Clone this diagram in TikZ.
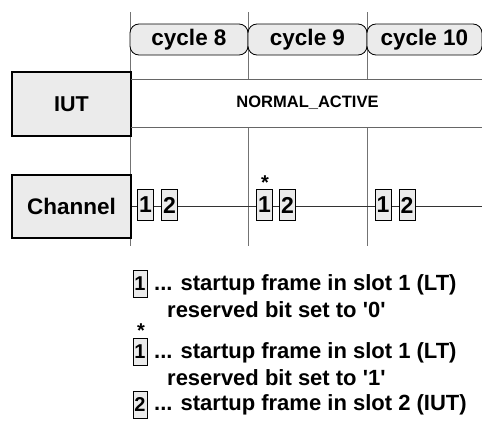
\documentclass[tikz,border=0pt]{standalone}
\usepackage{fontspec}
\setmainfont{Liberation Sans}[Ligatures=TeXOff]
\begin{document}
\begin{tikzpicture}[x=1pt,y=-1pt,
  gridline/.style={draw=black!55,line width=0.9pt},
  hline/.style={draw=black!60,line width=0.9pt},
  graybox/.style={draw=black,line width=1.1pt,fill=black!8,inner sep=0pt},
  cyclebox/.style={graybox,line width=0.8pt,rounded corners=9pt,minimum height=31pt,font=\fontsize{22.5}{24}\selectfont\bfseries},
  framebox/.style={graybox,line width=0.9pt,minimum width=16pt,minimum height=31pt,font=\fontsize{23}{24}\selectfont\bfseries},
  legbox/.style={graybox,line width=0.9pt,minimum width=14pt,minimum height=27pt,font=\fontsize{20}{22}\selectfont\bfseries},
  legtext/.style={anchor=west,inner sep=0pt,font=\fontsize{22}{24}\selectfont\bfseries},
  star/.style={inner sep=0pt,font=\fontsize{20}{20}\selectfont\bfseries}]
\useasboundingbox (0,0) rectangle (482,431);
% vertical grid lines (interrupted by the IUT band)
\coordinate (v1t) at (130,12); \coordinate (v1m) at (130,79); \coordinate (v1n) at (130,127); \coordinate (v1b) at (130,246);
\coordinate (v2t) at (248,12); \coordinate (v2m) at (248,79); \coordinate (v2n) at (248,127); \coordinate (v2b) at (248,246);
\coordinate (v3t) at (367,12); \coordinate (v3m) at (367,79); \coordinate (v3n) at (367,127); \coordinate (v3b) at (367,246);
\draw[gridline] (v1t) -- (v1m) (v1n) -- (v1b);
\draw[gridline] (v2t) -- (v2m) (v2n) -- (v2b);
\draw[gridline] (v3t) -- (v3m) (v3n) -- (v3b);
% cycle boxes
\node[cyclebox,minimum width=118pt] (c8) at (189,39.5) {cycle 8};
\node[cyclebox,minimum width=119pt] (c9) at (307.5,39.5) {cycle 9};
\node[cyclebox,minimum width=115pt] (c10) at (424.5,39.5) {cycle 10};
% IUT row
\node[graybox,minimum width=119pt,minimum height=64pt,font=\fontsize{21.5}{24}\selectfont\bfseries] (iut) at (71.5,104) {IUT};
\coordinate (h1a) at (131,79); \coordinate (h1b) at (482,79);
\coordinate (h2a) at (131,127); \coordinate (h2b) at (482,127);
\draw[hline] (h1a) -- (h1b);
\draw[hline] (h2a) -- (h2b);
\node[inner sep=0pt,font=\fontsize{16.5}{18}\selectfont\bfseries] (na) at (307.5,103) {NORMAL\_ACTIVE};
% Channel row
\node[graybox,minimum width=119pt,minimum height=63pt,font=\fontsize{22.5}{24}\selectfont\bfseries] (ch) at (71.5,206.5) {Channel};
\coordinate (chend) at (482,206);
\draw[black!80,line width=0.8pt] (ch.east |- chend) -- (chend);
\node[framebox] (f81) at (145.5,205) {1};
\node[framebox] (f82) at (169.5,205) {2};
\node[framebox] (f91) at (264.5,205) {1};
\node[star,anchor=south] (s9) at (265,190) {*};
\node[framebox] (f92) at (287.5,205) {2};
\node[framebox] (f101) at (383,205) {1};
\node[framebox] (f102) at (407,205) {2};
% legend
\node[legbox] (l1) at (140,284) {1};
\node[legtext] (t1a) at (154,285) {... startup frame in slot 1 (LT)};
\node[legtext] (t1b) at (167,310) {reserved bit set to '0'};
\node[star,anchor=south] (ls) at (141,338) {*};
\node[legbox] (l2) at (140,352) {1};
\node[legtext] (t2a) at (154,353) {... startup frame in slot 1 (LT)};
\node[legtext] (t2b) at (167,378) {reserved bit set to '1'};
\node[legbox] (l3) at (140,405) {2};
\node[legtext] (t3a) at (154,405) {... startup frame in slot 2 (IUT)};
\end{tikzpicture}
\end{document}
